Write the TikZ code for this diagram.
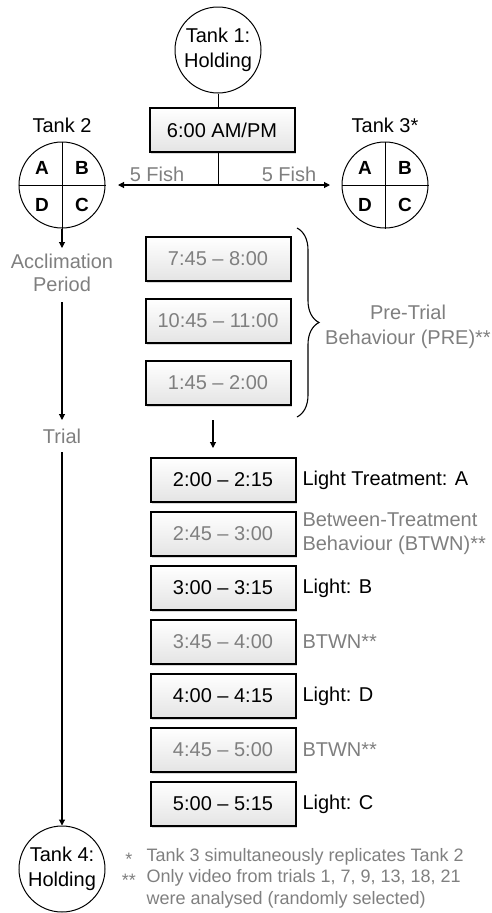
\documentclass[tikz,border=0pt]{standalone}
\usepackage{fontspec}
\setmainfont{Liberation Sans}
\usetikzlibrary{arrows.meta,positioning,calc,shadows,decorations.pathreplacing}
\definecolor{muted}{HTML}{7F7F7F}
\definecolor{pale}{HTML}{E4E4E4}
\tikzset{timebox/.style={draw=black,line width=2pt,top color=white,bottom color=pale,
 minimum width=145pt,minimum height=44pt,inner sep=0pt,font=\fontsize{20}{24}\selectfont,
 drop shadow={opacity=0.3,shadow xshift=1.5pt,shadow yshift=-1.5pt}},
 tankcirc/.style={circle,draw=black,line width=1pt,minimum size=86pt,inner sep=0pt,
 align=center,font=\fontsize{20}{25}\selectfont},
 flowarrow/.style={-{Triangle[length=6pt,width=6pt]},draw=black,line width=1.1pt},
 quad/.style={font=\bfseries\fontsize{19}{22}\selectfont},
 sidenote/.style={anchor=west,align=left,font=\fontsize{20}{24}\selectfont}}
\begin{document}
\begin{tikzpicture}[x=1pt,y=-1pt]
\useasboundingbox (0,0) rectangle (492,913);
% holding tank and sorting time
\node[tankcirc] (tank1) at (218,50) {Tank 1:\\Holding};
\node[timebox] (sort) at (222,130) {6:00 AM/PM};
\draw[line width=1pt] (tank1.south) -- (tank1.south |- sort.north);
\coordinate (split) at (218,185);
\coordinate (leftend) at (118,185);
\coordinate (rightend) at (330,185);
\draw[line width=1pt] (split |- sort.south) -- (split);
\draw[flowarrow] (split) -- (leftend);
\draw[flowarrow] (split) -- (rightend);
\node[text=muted,font=\fontsize{20}{24}\selectfont] (fishl) at (157,174) {5 Fish};
\node[text=muted,font=\fontsize{20}{24}\selectfont] (fishr) at (289,174) {5 Fish};
% experimental tanks
\foreach \t/\x/\lab in {tank2/62/Tank 2,tank3/385/Tank 3*}{
 \node[tankcirc] (\t) at (\x,185) {};
 \draw[line width=1pt] (\t.north) -- (\t.south) (\t.west) -- (\t.east);
 \node[quad] at (\x-20,168) {A};
 \node[quad] at (\x+20,168) {B};
 \node[quad] at (\x-20,205) {D};
 \node[quad] at (\x+20,205) {C};
 \node[font=\fontsize{20}{24}\selectfont] (\t lab) at (\x,125) {\lab};
}
% left time line
\node[align=center,text=muted,font=\fontsize{20}{23}\selectfont] (accl) at (62,273) {Acclimation\\Period};
\node[text=muted,font=\fontsize{20}{24}\selectfont] (trial) at (62,436) {Trial};
\node[tankcirc] (tank4) at (62,869) {Tank 4:\\Holding};
\draw[flowarrow] (tank2.south) -- (tank2.south |- 0,248);
\draw[flowarrow] (62,302) -- (62,420);
\draw[flowarrow] (62,452) -- (tank4.north);
% pre-trial recordings
\node[timebox,text=muted] (pre1) at (218,259) {7:45 -- 8:00};
\node[timebox,text=muted] (pre2) at (218,321) {10:45 -- 11:00};
\node[timebox,text=muted] (pre3) at (218,383) {1:45 -- 2:00};
\draw[line width=1.1pt,decorate,decoration={brace,amplitude=22pt}] (297,228) -- (297,417);
\node[align=center,text=muted,font=\fontsize{20}{25}\selectfont] (prelab) at (408,327) {Pre-Trial\\Behaviour (PRE)**};
\draw[flowarrow] (213,420) -- (213,448);
% trial recordings
\foreach \n/\y/\tm/\col/\txt in {t1/480/2:00 -- 2:15/black/Light Treatment: A,
 t2/534/2:45 -- 3:00/muted/{Between-Treatment\\Behaviour (BTWN)**},
 t3/588/3:00 -- 3:15/black/Light: B,
 t4/642/3:45 -- 4:00/muted/BTWN**,
 t5/696/4:00 -- 4:15/black/Light: D,
 t6/750/4:45 -- 5:00/muted/BTWN**,
 t7/804/5:00 -- 5:15/black/Light: C}{
 \node[timebox,text=\col] (\n) at (223,\y) {\tm};
 \node[sidenote,text=\col] (\n lab) at (299,\y) {\txt};
}
% footnotes
\node[text=muted,font=\fontsize{18}{20}\selectfont] (star1) at (129,859) {*};
\node[text=muted,font=\fontsize{18}{20}\selectfont] (star2) at (129,880) {**};
\node[text=muted,anchor=west,font=\fontsize{18}{22}\selectfont] (fn1) at (143,857) {Tank 3 simultaneously replicates Tank 2};
\node[text=muted,anchor=north west,align=left,font=\fontsize{18}{22}\selectfont] (fn2) at (143,866) {Only video from trials 1, 7, 9, 13, 18, 21\\were analysed (randomly selected)};
\end{tikzpicture}
\end{document}
